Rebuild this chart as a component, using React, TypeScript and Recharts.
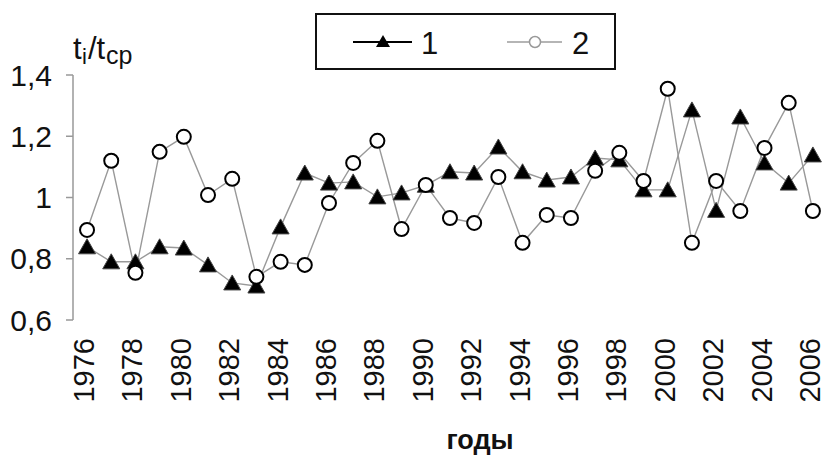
import { LineChart, Line, XAxis, YAxis, Legend, Label } from 'recharts';

// values
const years = [1976, 1977, 1978, 1979, 1980, 1981, 1982, 1983, 1984, 1985, 1986, 1987, 1988, 1989, 1990, 1991,
  1992, 1993, 1994, 1995, 1996, 1997, 1998, 1999, 2000, 2001, 2002, 2003, 2004, 2005, 2006];
const series1 = [0.839, 0.79, 0.79, 0.839, 0.835, 0.78, 0.721, 0.711, 0.904, 1.08, 1.047, 1.051, 1.002, 1.015, 1.04, 1.084,
  1.08, 1.165, 1.084, 1.057, 1.067, 1.129, 1.123, 1.025, 1.025, 1.286, 0.958, 1.263, 1.113, 1.047, 1.139];
const series2 = [0.894, 1.12, 0.754, 1.149, 1.198, 1.008, 1.061, 0.741, 0.79, 0.78, 0.982, 1.113, 1.185, 0.897, 1.041, 0.933,
  0.917, 1.067, 0.852, 0.943, 0.933, 1.087, 1.146, 1.054, 1.355, 0.852, 1.054, 0.956, 1.162, 1.309, 0.956];
const xTicks = [1976, 1978, 1980, 1982, 1984, 1986, 1988, 1990, 1992, 1994, 1996, 1998, 2000, 2002, 2004, 2006];
const yTicks = [0.6, 0.8, 1.0, 1.2, 1.4];
const seriesNames = ['1', '2'];

const data = years.map((year, i) => ({ year, s1: series1[i], s2: series2[i] }));

const FONT = '"Liberation Sans", Arial, sans-serif';

const Triangle = (props: any) => {
  const { cx, cy } = props;
  if (cx == null || cy == null) return null;
  return (
    <path
      d={`M${cx},${cy - 8} L${cx + 8.5},${cy + 7} L${cx - 8.5},${cy + 7} Z`}
      fill="#000"
      stroke="#444"
      strokeWidth={1}
    />
  );
};

const Ring = (props: any) => {
  const { cx, cy } = props;
  if (cx == null || cy == null) return null;
  return <circle cx={cx} cy={cy} r={7} fill="#fff" stroke="#000" strokeWidth={2} />;
};

const XTick = (props: any) => {
  const { x, y, payload } = props;
  const yy = y + 18;
  return (
    <text
      x={x}
      y={yy}
      dy={7}
      transform={`rotate(-90 ${x} ${yy})`}
      textAnchor="end"
      fontSize={29}
      fontFamily={FONT}
      fill="#111"
    >
      {payload.value}
    </text>
  );
};

const renderLegend = () => (
  <div style={{ width: 301, height: 57, border: '2px solid #111', boxSizing: 'border-box', background: '#fff' }}>
    <svg width={297} height={53} style={{ display: 'block' }}>
      <line x1={36} y1={27} x2={95} y2={27} stroke="#000" strokeWidth={2} />
      <path d="M66,20 L73,32 L59,32 Z" fill="#000" />
      <text x={104} y={39} fontSize={31} fontFamily={FONT} fill="#111">{seriesNames[0]}</text>
      <line x1={190} y1={27} x2={245} y2={27} stroke="#b5b5b5" strokeWidth={2} />
      <circle cx={218} cy={27} r={5.5} fill="#fff" stroke="#999" strokeWidth={1.5} />
      <text x={255} y={39} fontSize={31} fontFamily={FONT} fill="#111">{seriesNames[1]}</text>
    </svg>
  </div>
);

const YTitle = () => (
  <text fontFamily={FONT} fill="#111">
    <tspan x={73} y={59} fontSize={31}>t</tspan>
    <tspan x={82} y={64} fontSize={22}>i</tspan>
    <tspan x={88} y={59} fontSize={31}>/t</tspan>
    <tspan x={106} y={64} fontSize={25}>cp</tspan>
  </text>
);

const XTitle = () => (
  <text x={480} y={449} textAnchor="middle" fontSize={27} fontWeight="bold" fontFamily={FONT} fill="#111">
    годы
  </text>
);

export default function App() {
  return (
    <div style={{ position: 'absolute', left: 0, top: 0, background: '#fff' }}>
      <LineChart width={826} height={455} data={data} margin={{ top: 75, right: 1, bottom: 0, left: 0 }}>
        <XAxis
          dataKey="year"
          type="number"
          domain={[1975.42, 2006.5]}
          ticks={xTicks}
          interval={0}
          axisLine={false}
          tickLine={false}
          tickSize={0}
          tickMargin={0}
          height={135}
          tick={<XTick />}
        >
          <Label content={<XTitle />} />
        </XAxis>
        <YAxis
          type="number"
          domain={[0.6, 1.4]}
          ticks={yTicks}
          width={73}
          axisLine={{ stroke: '#999', strokeWidth: 1.5 }}
          tickLine={{ stroke: '#999', strokeWidth: 1.5 }}
          tickSize={7}
          tickMargin={14}
          tick={{ fontSize: 30, fontFamily: FONT, fill: '#111' }}
          tickFormatter={(v: number) => (v === 1 ? '1' : v.toFixed(1).replace('.', ','))}
        >
          <Label content={<YTitle />} />
        </YAxis>
        <Legend
          layout="horizontal"
          verticalAlign="middle"
          align="center"
          content={renderLegend}
          wrapperStyle={{ left: 315, top: 13, width: 301, height: 57 }}
        />
        <Line
          dataKey="s1"
          name={seriesNames[0]}
          stroke="#999"
          strokeWidth={1.4}
          dot={<Triangle />}
          activeDot={false}
          isAnimationActive={false}
        />
        <Line
          dataKey="s2"
          name={seriesNames[1]}
          stroke="#999"
          strokeWidth={1.4}
          dot={<Ring />}
          activeDot={false}
          isAnimationActive={false}
        />
      </LineChart>
    </div>
  );
}
